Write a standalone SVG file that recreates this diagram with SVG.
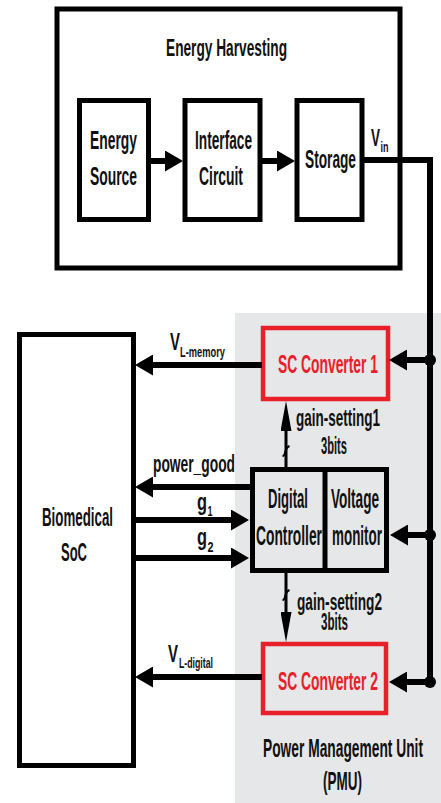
<svg xmlns="http://www.w3.org/2000/svg" width="441" height="803" viewBox="0 0 441 803">
<style>
  text { font-family: "Liberation Sans Narrow", "Liberation Sans", Arial, sans-serif; font-weight: bold; fill: #111; }
  .xl { font-size: 27px; }
  .lg { font-size: 25px; }
  .md { font-size: 24px; }
  .sub { font-size: 15px; }
  .red { fill: #e8202a; }
  .box { fill: none; stroke: #000; stroke-width: 5; }
  .rbox { fill: none; stroke: #e8202a; stroke-width: 4.5; }
  .wire { fill: none; stroke: #000; stroke-width: 6; }
  .thin { fill: none; stroke: #000; stroke-width: 3; }
  .tick { fill: none; stroke: #000; stroke-width: 2; }
</style>
<defs>
  <marker id="ah" markerUnits="userSpaceOnUse" markerWidth="18" markerHeight="21" viewBox="0 0 18 21" refX="0" refY="10.5" orient="auto">
    <path d="M0,0 L18,10.5 L0,21 z" fill="#000"/>
  </marker>
  <marker id="ahs" markerUnits="userSpaceOnUse" markerWidth="30" markerHeight="11" viewBox="0 0 30 11" refX="0" refY="5.5" orient="auto">
    <path d="M0,0 L30,5.5 L0,11 z" fill="#000"/>
  </marker>
</defs>
<rect x="0" y="0" width="441" height="803" fill="#fff"/>
<rect id="pmu-area" x="235" y="313" width="206" height="490" fill="#e6e7e8"/>

<g id="energy-harvesting">
  <rect class="box" x="57" y="9" width="343" height="259"/>
  <text class="md" x="166" y="56" textLength="121" lengthAdjust="spacingAndGlyphs">Energy Harvesting</text>
</g>
<g id="energy-source">
  <rect class="box" x="79.5" y="100.5" width="69" height="119"/>
  <text class="lg" x="90" y="149" textLength="47" lengthAdjust="spacingAndGlyphs">Energy</text>
  <text class="lg" x="90" y="185" textLength="47" lengthAdjust="spacingAndGlyphs">Source</text>
</g>
<g id="interface-circuit">
  <rect class="box" x="185" y="100.5" width="75" height="119"/>
  <text class="lg" x="195" y="149" textLength="57" lengthAdjust="spacingAndGlyphs">Interface</text>
  <text class="lg" x="199" y="185" textLength="44" lengthAdjust="spacingAndGlyphs">Circuit</text>
</g>
<g id="storage">
  <rect class="box" x="297" y="100.5" width="65" height="119"/>
  <text class="lg" x="305" y="168" textLength="51" lengthAdjust="spacingAndGlyphs">Storage</text>
</g>
<g id="biomedical-soc">
  <rect class="box" x="19.5" y="334.5" width="114" height="431"/>
  <text class="lg" x="42" y="526" textLength="71" lengthAdjust="spacingAndGlyphs">Biomedical</text>
  <text class="lg" x="61" y="561" textLength="26" lengthAdjust="spacingAndGlyphs">SoC</text>
</g>
<g id="sc-converter-1">
  <rect class="rbox" x="263" y="328" width="125" height="71"/>
  <text class="lg red" x="278" y="373" textLength="100" lengthAdjust="spacingAndGlyphs">SC Converter 1</text>
</g>
<g id="digital-controller">
  <rect class="box" x="252.5" y="469.5" width="134" height="101"/>
  <line class="box" x1="325" y1="469.5" x2="325" y2="570.5"/>
  <text class="xl" x="268" y="508" textLength="40" lengthAdjust="spacingAndGlyphs">Digital</text>
  <text class="xl" x="256" y="545" textLength="66" lengthAdjust="spacingAndGlyphs">Controller</text>
</g>
<g id="voltage-monitor">
  <text class="xl" x="331" y="508" textLength="48" lengthAdjust="spacingAndGlyphs">Voltage</text>
  <text class="xl" x="332" y="545" textLength="50" lengthAdjust="spacingAndGlyphs">monitor</text>
</g>
<g id="sc-converter-2">
  <rect class="rbox" x="263" y="644" width="123" height="69"/>
  <text class="lg red" x="278" y="690" textLength="100" lengthAdjust="spacingAndGlyphs">SC Converter 2</text>
</g>
<g id="pmu-label">
  <text class="lg" x="263" y="757" textLength="160" lengthAdjust="spacingAndGlyphs">Power Management Unit</text>
  <text class="lg" x="323" y="790" textLength="39" lengthAdjust="spacingAndGlyphs">(PMU)</text>
</g>

<g id="connectors">
  <line class="wire" x1="148" y1="161" x2="165" y2="161" stroke-width="7" marker-end="url(#ah)"/>
  <line class="wire" x1="260" y1="161" x2="277" y2="161" stroke-width="7" marker-end="url(#ah)"/>
  <polyline class="wire" points="362,160 430,160 430,682" stroke-width="5"/>
  <circle cx="430" cy="360" r="6" fill="#000"/>
  <circle cx="430" cy="535" r="6" fill="#000"/>
  <circle cx="430" cy="682" r="6" fill="#000"/>
  <line class="wire" x1="430" y1="360" x2="407" y2="360" marker-end="url(#ah)"/>
  <line class="wire" x1="430" y1="535" x2="408" y2="535" marker-end="url(#ah)"/>
  <line class="wire" x1="430" y1="682" x2="407" y2="682" marker-end="url(#ah)"/>
  <line class="wire" x1="262" y1="365" x2="153" y2="365" marker-end="url(#ah)"/>
  <line class="wire" x1="251" y1="487" x2="153" y2="487" marker-end="url(#ah)"/>
  <line class="wire" x1="134" y1="520" x2="231" y2="520" marker-end="url(#ah)"/>
  <line class="wire" x1="134" y1="558" x2="231" y2="558" marker-end="url(#ah)"/>
  <line class="wire" x1="262" y1="677" x2="153" y2="677" marker-end="url(#ah)"/>
  <line class="thin" x1="286" y1="468" x2="286" y2="431" marker-end="url(#ahs)"/>
  <path class="tick" d="M282.5,456 q2,0 3,-5 q1,-4 4,-5"/>
  <line class="thin" x1="286" y1="572" x2="286" y2="612" marker-end="url(#ahs)"/>
  <path class="tick" d="M282.5,600 q2,0 3,-5 q1,-4 4,-5"/>

  <text class="md" x="371" y="146" textLength="9" lengthAdjust="spacingAndGlyphs">V</text>
  <text class="sub" x="380.5" y="152" textLength="8" lengthAdjust="spacingAndGlyphs">in</text>
  <text class="md" x="170" y="350" textLength="10" lengthAdjust="spacingAndGlyphs">V</text>
  <text class="sub" x="180" y="357" textLength="45" lengthAdjust="spacingAndGlyphs">L-memory</text>
  <text class="md" x="296" y="426" textLength="84" lengthAdjust="spacingAndGlyphs">gain-setting1</text>
  <text class="md" x="321" y="454" textLength="26" lengthAdjust="spacingAndGlyphs">3bits</text>
  <text class="md" x="153" y="472" textLength="82" lengthAdjust="spacingAndGlyphs">power_good</text>
  <text class="md" x="197" y="510" textLength="10" lengthAdjust="spacingAndGlyphs">g</text>
  <text class="sub" x="207.5" y="516" textLength="5" lengthAdjust="spacingAndGlyphs">1</text>
  <text class="md" x="197" y="545" textLength="10" lengthAdjust="spacingAndGlyphs">g</text>
  <text class="sub" x="207.5" y="552" textLength="6" lengthAdjust="spacingAndGlyphs">2</text>
  <text class="md" x="297" y="610" textLength="85" lengthAdjust="spacingAndGlyphs">gain-setting2</text>
  <text class="md" x="321" y="630" textLength="27" lengthAdjust="spacingAndGlyphs">3bits</text>
  <text class="md" x="168" y="662" textLength="10" lengthAdjust="spacingAndGlyphs">V</text>
  <text class="sub" x="179" y="668" textLength="34" lengthAdjust="spacingAndGlyphs">L-digital</text>
</g>
</svg>
